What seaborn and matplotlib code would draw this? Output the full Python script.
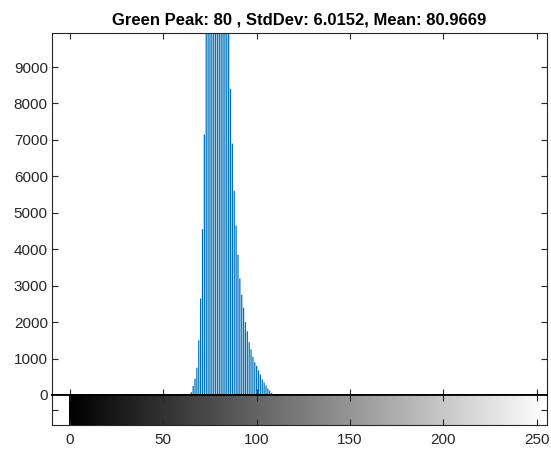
import numpy as np
import pandas as pd
import matplotlib
matplotlib.use("Agg")
import matplotlib.pyplot as plt
import seaborn as sns

# ---------------------------------------------------------
# Histogram data (green channel)
# ---------------------------------------------------------
levels = list(range(64, 110))
counts = [30, 80, 250, 450, 750, 1500, 2650, 4550, 7150,
          10500, 12500, 13800, 14800, 15500, 15900, 16000, 16300,
          15200, 14000, 12800, 11500, 10200,
          8400, 6900, 5600, 4650, 3850, 3200, 2750, 2400, 2000,
          1750, 1450, 1250, 1050, 900, 800, 680, 560, 430,
          340, 260, 180, 120, 60, 25]

title_text = 'Green Peak: 80 , StdDev: 6.0152, Mean: 80.9669'
y_ticks = [0, 1000, 2000, 3000, 4000, 5000, 6000, 7000, 8000, 9000]
x_ticks = [0, 50, 100, 150, 200, 250]

df = pd.DataFrame({'level': levels, 'count': counts})

sns.set_theme(style="ticks")
plt.rcParams['font.family'] = ['Liberation Sans', 'DejaVu Sans']
dark = '#262626'
plt.rcParams.update({
    'axes.edgecolor': dark, 'axes.linewidth': 0.8,
    'xtick.color': dark, 'ytick.color': dark,
    'xtick.labelcolor': dark, 'ytick.labelcolor': dark,
    'xtick.direction': 'in', 'ytick.direction': 'in',
    'xtick.major.size': 4, 'ytick.major.size': 4,
    'xtick.major.width': 0.8, 'ytick.major.width': 0.8,
    'xtick.labelsize': 11, 'ytick.labelsize': 11,
})

W, H = 551, 454
fig = plt.figure(figsize=(W / 100, H / 100), dpi=100)
x0, x1 = 52 / W, 547 / W
ax = fig.add_axes([x0, 1 - 395 / H, x1 - x0, (395 - 33) / H])
cax = fig.add_axes([x0, 1 - 425 / H, x1 - x0, 30 / H])

xlim = (-9.6, 255.5)

# stems of the histogram
stems = ax.vlines(df['level'], 0, df['count'], color='#0072BD', linewidth=0.9)
stems.set_snap(False)
ax.set_xlim(*xlim)
ax.set_ylim(0, 9934)
ax.set_yticks(y_ticks)
ax.set_xticks(x_ticks)
ax.tick_params(axis='x', labelbottom=False, top=True, bottom=True)
ax.tick_params(axis='y', right=True, pad=3)
ax.set_xlabel('')
ax.set_ylabel('')
ax.spines['bottom'].set_color('black')
ax.spines['bottom'].set_linewidth(1.3)
ax.set_title(title_text, fontsize=12, fontweight='bold', color='black', pad=6)

# grayscale strip below
grad = np.linspace(0, 1, 256).reshape(1, -1)
cax.imshow(grad, cmap='gray', aspect='auto', extent=(-0.5, 255.5, 0, 1),
           interpolation='bilinear')
cax.set_xlim(*xlim)
cax.set_ylim(0, 1)
cax.set_xticks(x_ticks)
cax.set_yticks([0.5])
cax.set_yticklabels([''])
cax.tick_params(axis='x', top=True, bottom=True, pad=6)
cax.tick_params(axis='y', right=True)
cax.spines['top'].set_color('black')
cax.spines['top'].set_linewidth(1.3)

fig.savefig('out.png', dpi=100, facecolor='white')
